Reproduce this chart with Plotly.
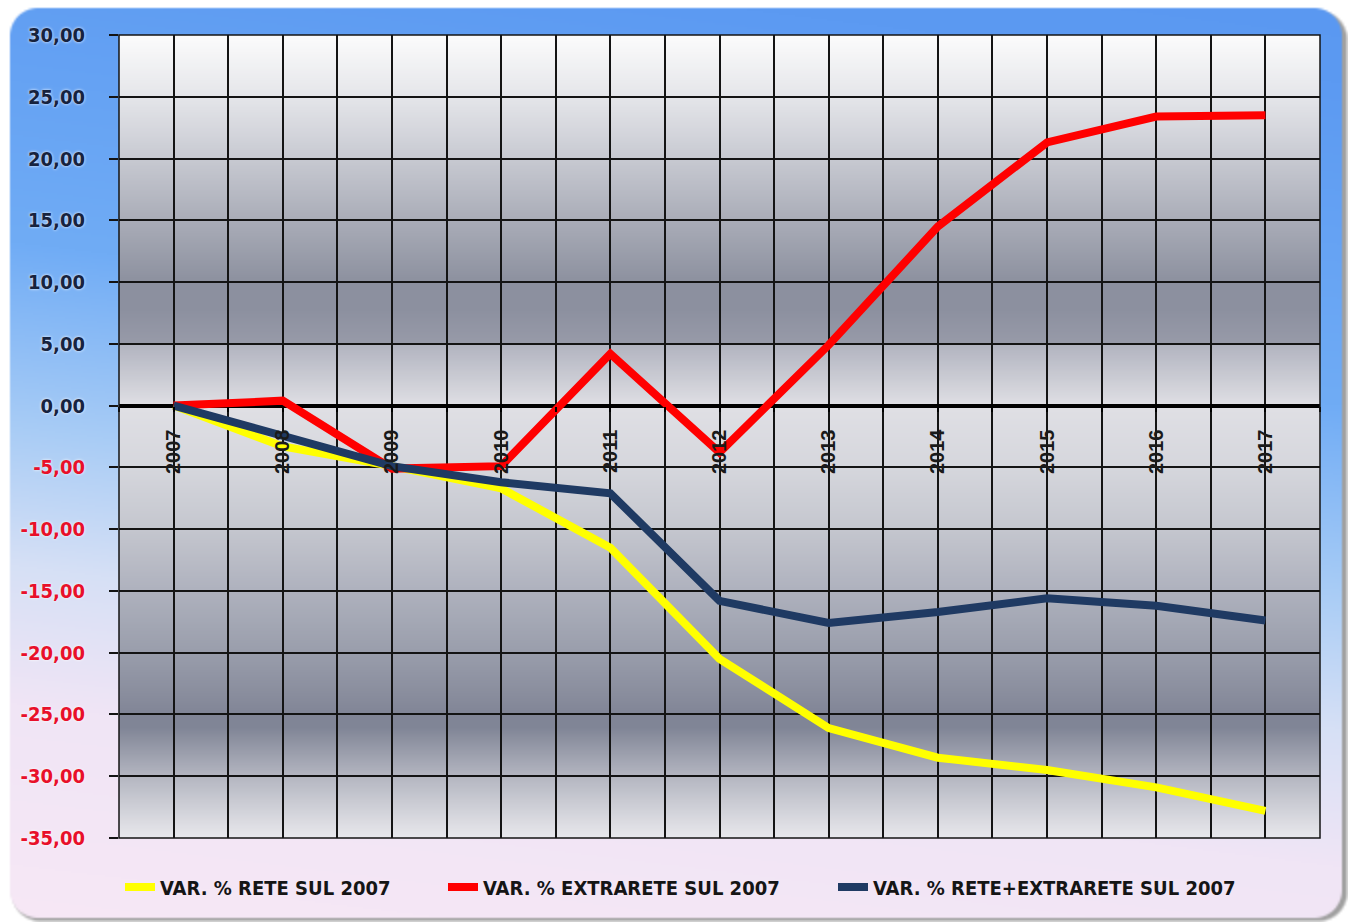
import numpy as np
import zlib, struct, base64
import plotly.graph_objects as go

# ---------------- data ----------------
years = [2007, 2008, 2009, 2010, 2011, 2012, 2013, 2014, 2015, 2016, 2017]
rete = [0.0, -3.3, -4.9, -6.7, -11.5, -20.5, -26.1, -28.5, -29.5, -30.9, -32.8]
extrarete = [0.0, 0.4, -5.1, -4.9, 4.2, -3.8, 4.9, 14.5, 21.3, 23.4, 23.5]
totale = [0.0, -2.5, -4.9, -6.2, -7.1, -15.8, -17.6, -16.7, -15.6, -16.2, -17.4]
series_names = ["VAR. % RETE SUL 2007", "VAR. % EXTRARETE SUL 2007", "VAR. % RETE+EXTRARETE SUL 2007"]
series_values = [rete, extrarete, totale]
series_colors = ["#FFFF00", "#FF0000", "#1F3A63"]
y_ticks = list(range(-35, 31, 5))

# ---------------- geometry ----------------
W, H = 1348, 922
ML, MR, MT, MB = 119, 28, 35, 84
PW, PH = W - ML - MR, H - MT - MB
legend_px = [120, 443, 833]   # left edge of each legend entry (pixels)
legend_py = 887


def png_uri(arr):
    arr = np.ascontiguousarray(arr.astype(np.uint8))
    h, w, _ = arr.shape
    raw = b"".join(b"\x00" + arr[i].tobytes() for i in range(h))

    def chunk(tag, data):
        c = struct.pack(">I", len(data)) + tag + data
        return c + struct.pack(">I", zlib.crc32(tag + data) & 0xFFFFFFFF)

    png = (b"\x89PNG\r\n\x1a\n"
           + chunk(b"IHDR", struct.pack(">IIBBBBB", w, h, 8, 2, 0, 0, 0))
           + chunk(b"IDAT", zlib.compress(raw, 9))
           + chunk(b"IEND", b""))
    return "data:image/png;base64," + base64.b64encode(png).decode()


def interp_colors(t, stops):
    pos = [s[0] for s in stops]
    out = np.zeros(t.shape + (3,))
    for c in range(3):
        out[..., c] = np.interp(t, pos, [s[1][c] for s in stops])
    return out


def rrect_sdf(X, Y, x0, y0, x1, y1, r):
    cx, cy = (x0 + x1) / 2, (y0 + y1) / 2
    hx, hy = (x1 - x0) / 2 - r, (y1 - y0) / 2 - r
    qx = np.abs(X - cx) - hx
    qy = np.abs(Y - cy) - hy
    outside = np.hypot(np.maximum(qx, 0), np.maximum(qy, 0))
    inside = np.minimum(np.maximum(qx, qy), 0)
    return outside + inside - r


# panel background (half resolution, stretched)
sc = 2
w2, h2 = W // sc, H // sc
X, Y = np.meshgrid((np.arange(w2) + 0.5) * sc, (np.arange(h2) + 0.5) * sc)
s = Y / H + 0.18 * (0.5 - X / W)
panel_stops = [(-0.2, (88, 150, 240)), (0.0, (92, 154, 242)), (0.35, (112, 172, 245)),
               (0.55, (168, 204, 245)), (0.7, (214, 224, 246)), (0.85, (240, 229, 245)),
               (1.2, (250, 233, 246))]
grad = interp_colors(s, panel_stops)
img = np.full((h2, w2, 3), 255.0)
d_sh = rrect_sdf(X, Y, 12, 11, 1347, 921, 28)
a_sh = np.clip(0.5 - d_sh / 3.0, 0, 1)[..., None] * 0.65
img = img * (1 - a_sh) + np.array([110, 110, 110]) * a_sh
d_p = rrect_sdf(X, Y, 10, 8, 1342, 918, 28)
a_p = np.clip(0.5 - d_p / sc, 0, 1)[..., None]
img = img * (1 - a_p) + grad * a_p
panel_uri = png_uri(img)

# plot-area banded gradient (by y value)
plot_stops = [(-35, (233, 233, 237)), (-30, (180, 182, 193)), (-26, (128, 133, 150)),
              (-25, (130, 134, 151)), (-20, (154, 158, 172)), (-15, (175, 178, 190)),
              (-10, (197, 199, 207)), (-5, (214, 215, 221)), (0, (224, 224, 229)),
              (4.99, (178, 180, 192)), (5.01, (152, 155, 169)), (8, (140, 144, 159)),
              (10, (141, 145, 159)), (15, (170, 173, 184)), (20, (200, 202, 210)),
              (25, (229, 230, 234)), (30, (252, 252, 252))]
vals = np.linspace(30, -35, 651)
col = interp_colors(vals, plot_stops)
plot_img = np.repeat(col[:, None, :], 2, axis=1)
plot_uri = png_uri(plot_img)

# ---------------- figure ----------------
fig = go.Figure()
legend_ids = ["legend", "legend2", "legend3"]
for name, v, c, lid in zip(series_names, series_values, series_colors, legend_ids):
    fig.add_trace(go.Scatter(x=years, y=v, name=name, mode="lines", legend=lid,
                             line=dict(color=c, width=8)))


def fmt(v):
    t = f"{v:.2f}".replace(".", ",")
    color = "#E8102A" if v < 0 else "#16233F"
    return f'<span style="color:{color}">{t}</span>'


legend_font = dict(family="DejaVu Sans Condensed, DejaVu Sans", size=20,
                   color="#151515", weight="bold")
legends = {}
for lid, px in zip(legend_ids, legend_px):
    legends[lid] = dict(orientation="h", x=(px - ML) / PW, y=(MT + PH - legend_py) / PH,
                        yanchor="middle", xanchor="left", bgcolor="rgba(0,0,0,0)",
                        font=legend_font)

grid_col = "#141414"
fig.update_layout(
    width=W, height=H,
    margin=dict(l=ML, r=MR, t=MT, b=MB, pad=0),
    paper_bgcolor="#ffffff",
    plot_bgcolor="rgba(0,0,0,0)",
    showlegend=True,
    **legends,
    images=[
        dict(source=panel_uri, xref="paper", yref="paper", x=-ML / PW, y=1 + MT / PH,
             sizex=W / PW, sizey=H / PH, sizing="stretch", xanchor="left",
             yanchor="top", layer="below"),
        dict(source=plot_uri, xref="x", yref="y", x=2006.5, y=30, sizex=11, sizey=65,
             sizing="stretch", xanchor="left", yanchor="top", layer="below"),
    ],
    shapes=[dict(type="rect", xref="paper", yref="paper", x0=0, x1=1, y0=0, y1=1,
                 line=dict(color=grid_col, width=1.5), layer="above")],
    xaxis=dict(
        range=[2006.5, 2017.5], tickmode="linear", tick0=2007, dtick=1,
        anchor="free", position=35 / 65,
        showgrid=True, gridcolor=grid_col, gridwidth=1.5,
        zeroline=False, showline=False,
        ticks="outside", ticklen=5, tickcolor="#000000", tickwidth=2,
        tickangle=-90, tickformat="d", ticklabelstandoff=10,
        tickfont=dict(family="Liberation Sans, Arial", size=20, color="#1a1a1a",
                      weight="bold"),
        minor=dict(tick0=2006.5, dtick=0.5, showgrid=True, gridcolor=grid_col,
                   gridwidth=1.5, ticks="outside", ticklen=5, tickcolor="#000000"),
    ),
    yaxis=dict(
        range=[-35, 30], tickmode="array", tickvals=y_ticks,
        ticktext=[fmt(v) for v in y_ticks],
        showgrid=True, gridcolor=grid_col, gridwidth=1.5,
        zeroline=True, zerolinecolor="#000000", zerolinewidth=4,
        showline=False,
        ticks="outside", ticklen=9, tickcolor=grid_col, tickwidth=1.5,
        ticklabelstandoff=20,
        tickfont=dict(family="DejaVu Sans Condensed, DejaVu Sans", size=20,
                      color="#16233F", weight="bold", shadow="0px 0px 3px #ffffff"),
    ),
)

fig.write_html("out.html", config={"displayModeBar": False},
               post_script="document.body.style.margin='0';document.body.style.overflow='hidden';")
